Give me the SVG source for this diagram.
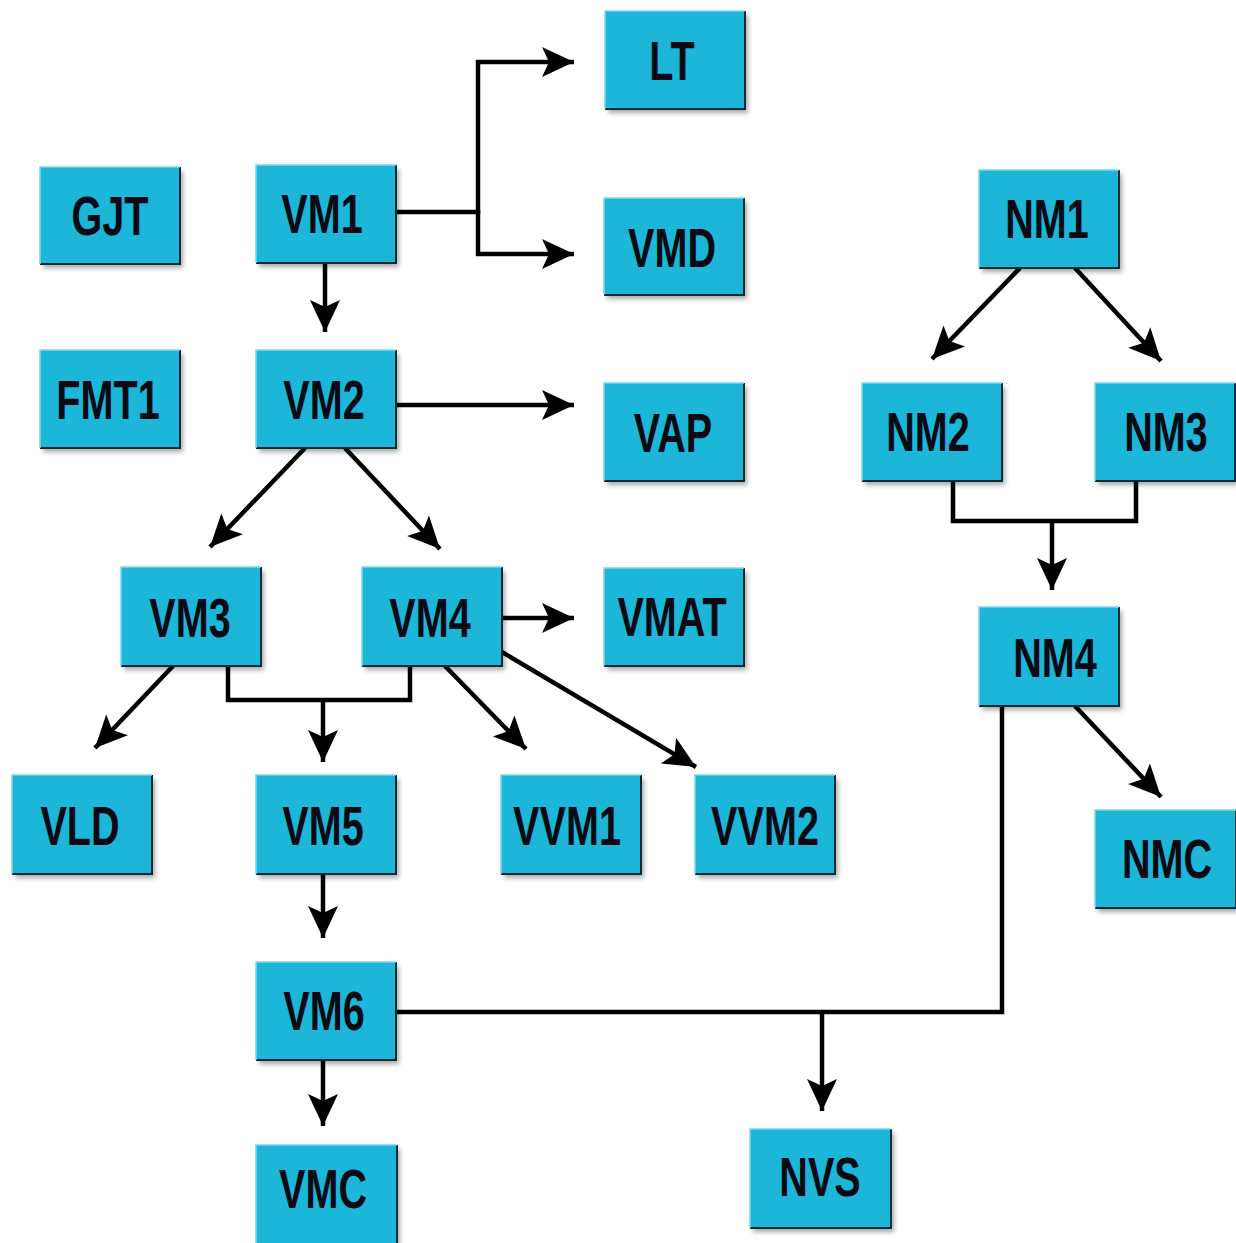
<svg xmlns="http://www.w3.org/2000/svg" width="1236" height="1243" viewBox="0 0 1236 1243">
<defs>
<filter id="sh" x="-10%" y="-10%" width="130%" height="130%">
<feGaussianBlur in="SourceAlpha" stdDeviation="2.5"/>
<feOffset dx="3" dy="4" result="b"/>
<feComponentTransfer><feFuncA type="linear" slope="0.35"/></feComponentTransfer>
<feMerge><feMergeNode/><feMergeNode in="SourceGraphic"/></feMerge>
</filter>
<marker id="ah" viewBox="-34 -17 36 34" refX="0" refY="0" markerWidth="36" markerHeight="34" markerUnits="userSpaceOnUse" orient="auto">
<path d="M0,0 L-32,-15 L-25,0 L-32,15 Z" fill="#000"/>
</marker>
</defs>
<style>
.box{fill:#1bb6d8;filter:url(#sh)}
.edge{fill:none;stroke:#0d2a36;stroke-width:2}
.top{fill:none;stroke:#7fd6ea;stroke-width:1.5}
.lbl{font-family:"Liberation Sans",Arial,sans-serif;font-size:55px;font-weight:bold;fill:#0a0a14;text-anchor:middle}
.c{fill:none;stroke:#000;stroke-width:4.5;stroke-linejoin:miter;stroke-linecap:butt}
.a{marker-end:url(#ah)}
</style>
<rect width="1236" height="1243" fill="#fff"/>

<g id="connectors">
<path class="c a" d="M396,212 H478 V62 H574"/>
<path class="c a" d="M478,210 V254 H574"/>
<path class="c a" d="M325,263 V332"/>
<path class="c a" d="M396,405 H574"/>
<path class="c a" d="M305,448 L210,547"/>
<path class="c a" d="M345,448 L440,549"/>
<path class="c a" d="M173,666 L95,748"/>
<path class="c" d="M228,666 V700 H410 V666"/>
<path class="c a" d="M323,700 V762"/>
<path class="c a" d="M502,618 H574"/>
<path class="c a" d="M445,666 L526,749"/>
<path class="c a" d="M502,652 L696,767"/>
<path class="c a" d="M323,874 V938"/>
<path class="c a" d="M323,1060 V1126"/>
<path class="c" d="M396,1012 H1002 V706"/>
<path class="c a" d="M822,1012 V1111"/>
<path class="c a" d="M1020,268 L932,359"/>
<path class="c a" d="M1075,268 L1161,361"/>
<path class="c" d="M953,481 V521 H1136 V481"/>
<path class="c a" d="M1052,521 V590"/>
<path class="c a" d="M1075,706 L1161,797"/>
</g>

<g id="LT"><rect class="box" x="605" y="11" width="140" height="98"/><path class="edge" d="M745,11 V109 H605"/><path class="top" d="M605,109 V11 H745"/><text class="lbl" transform="translate(672,80) scale(0.72,1)">LT</text></g>
<g id="GJT"><rect class="box" x="40" y="167" width="140" height="97"/><path class="edge" d="M180,167 V264 H40"/><path class="top" d="M40,264 V167 H180"/><text class="lbl" transform="translate(110,235) scale(0.72,1)">GJT</text></g>
<g id="VM1"><rect class="box" x="256" y="165" width="140" height="98"/><path class="edge" d="M396,165 V263 H256"/><path class="top" d="M256,263 V165 H396"/><text class="lbl" transform="translate(322,233) scale(0.72,1)">VM1</text></g>
<g id="VMD"><rect class="box" x="604" y="198" width="140" height="97"/><path class="edge" d="M744,198 V295 H604"/><path class="top" d="M604,295 V198 H744"/><text class="lbl" transform="translate(672,267) scale(0.72,1)">VMD</text></g>
<g id="NM1"><rect class="box" x="979" y="170" width="140" height="98"/><path class="edge" d="M1119,170 V268 H979"/><path class="top" d="M979,268 V170 H1119"/><text class="lbl" transform="translate(1047,238) scale(0.72,1)">NM1</text></g>
<g id="FMT1"><rect class="box" x="40" y="350" width="140" height="98"/><path class="edge" d="M180,350 V448 H40"/><path class="top" d="M40,448 V350 H180"/><text class="lbl" transform="translate(108,419) scale(0.72,1)">FMT1</text></g>
<g id="VM2"><rect class="box" x="256" y="350" width="140" height="98"/><path class="edge" d="M396,350 V448 H256"/><path class="top" d="M256,448 V350 H396"/><text class="lbl" transform="translate(324,419) scale(0.72,1)">VM2</text></g>
<g id="VAP"><rect class="box" x="604" y="383" width="140" height="98"/><path class="edge" d="M744,383 V481 H604"/><path class="top" d="M604,481 V383 H744"/><text class="lbl" transform="translate(673,452) scale(0.72,1)">VAP</text></g>
<g id="NM2"><rect class="box" x="862" y="383" width="140" height="98"/><path class="edge" d="M1002,383 V481 H862"/><path class="top" d="M862,481 V383 H1002"/><text class="lbl" transform="translate(928,451) scale(0.72,1)">NM2</text></g>
<g id="NM3"><rect class="box" x="1095" y="383" width="140" height="98"/><path class="edge" d="M1235,383 V481 H1095"/><path class="top" d="M1095,481 V383 H1235"/><text class="lbl" transform="translate(1166,451) scale(0.72,1)">NM3</text></g>
<g id="VM3"><rect class="box" x="121" y="567" width="140" height="99"/><path class="edge" d="M261,567 V666 H121"/><path class="top" d="M121,666 V567 H261"/><text class="lbl" transform="translate(190,637) scale(0.72,1)">VM3</text></g>
<g id="VM4"><rect class="box" x="362" y="567" width="140" height="99"/><path class="edge" d="M502,567 V666 H362"/><path class="top" d="M362,666 V567 H502"/><text class="lbl" transform="translate(430,637) scale(0.72,1)">VM4</text></g>
<g id="VMAT"><rect class="box" x="604" y="568" width="140" height="98"/><path class="edge" d="M744,568 V666 H604"/><path class="top" d="M604,666 V568 H744"/><text class="lbl" transform="translate(672,636) scale(0.72,1)">VMAT</text></g>
<g id="NM4"><rect class="box" x="979" y="607" width="140" height="99"/><path class="edge" d="M1119,607 V706 H979"/><path class="top" d="M979,706 V607 H1119"/><text class="lbl" transform="translate(1055,677) scale(0.72,1)">NM4</text></g>
<g id="VLD"><rect class="box" x="12" y="775" width="140" height="99"/><path class="edge" d="M152,775 V874 H12"/><path class="top" d="M12,874 V775 H152"/><text class="lbl" transform="translate(80,845) scale(0.72,1)">VLD</text></g>
<g id="VM5"><rect class="box" x="256" y="775" width="140" height="99"/><path class="edge" d="M396,775 V874 H256"/><path class="top" d="M256,874 V775 H396"/><text class="lbl" transform="translate(323,845) scale(0.72,1)">VM5</text></g>
<g id="VVM1"><rect class="box" x="501" y="775" width="140" height="99"/><path class="edge" d="M641,775 V874 H501"/><path class="top" d="M501,874 V775 H641"/><text class="lbl" transform="translate(567,845) scale(0.72,1)">VVM1</text></g>
<g id="VVM2"><rect class="box" x="695" y="775" width="140" height="99"/><path class="edge" d="M835,775 V874 H695"/><path class="top" d="M695,874 V775 H835"/><text class="lbl" transform="translate(765,845) scale(0.72,1)">VVM2</text></g>
<g id="NMC"><rect class="box" x="1095" y="810" width="141" height="98"/><path class="edge" d="M1236,810 V908 H1095"/><path class="top" d="M1095,908 V810 H1236"/><text class="lbl" transform="translate(1167,878) scale(0.72,1)">NMC</text></g>
<g id="VM6"><rect class="box" x="256" y="962" width="140" height="98"/><path class="edge" d="M396,962 V1060 H256"/><path class="top" d="M256,1060 V962 H396"/><text class="lbl" transform="translate(324,1030) scale(0.72,1)">VM6</text></g>
<g id="VMC"><rect class="box" x="256" y="1145" width="141" height="100"/><path class="edge" d="M397,1145 V1243"/><path class="top" d="M256,1245 V1145 H397"/><text class="lbl" transform="translate(323,1208) scale(0.72,1)">VMC</text></g>
<g id="NVS"><rect class="box" x="750" y="1129" width="141" height="99"/><path class="edge" d="M891,1129 V1228 H750"/><path class="top" d="M750,1228 V1129 H891"/><text class="lbl" transform="translate(820,1196) scale(0.72,1)">NVS</text></g>
</svg>
